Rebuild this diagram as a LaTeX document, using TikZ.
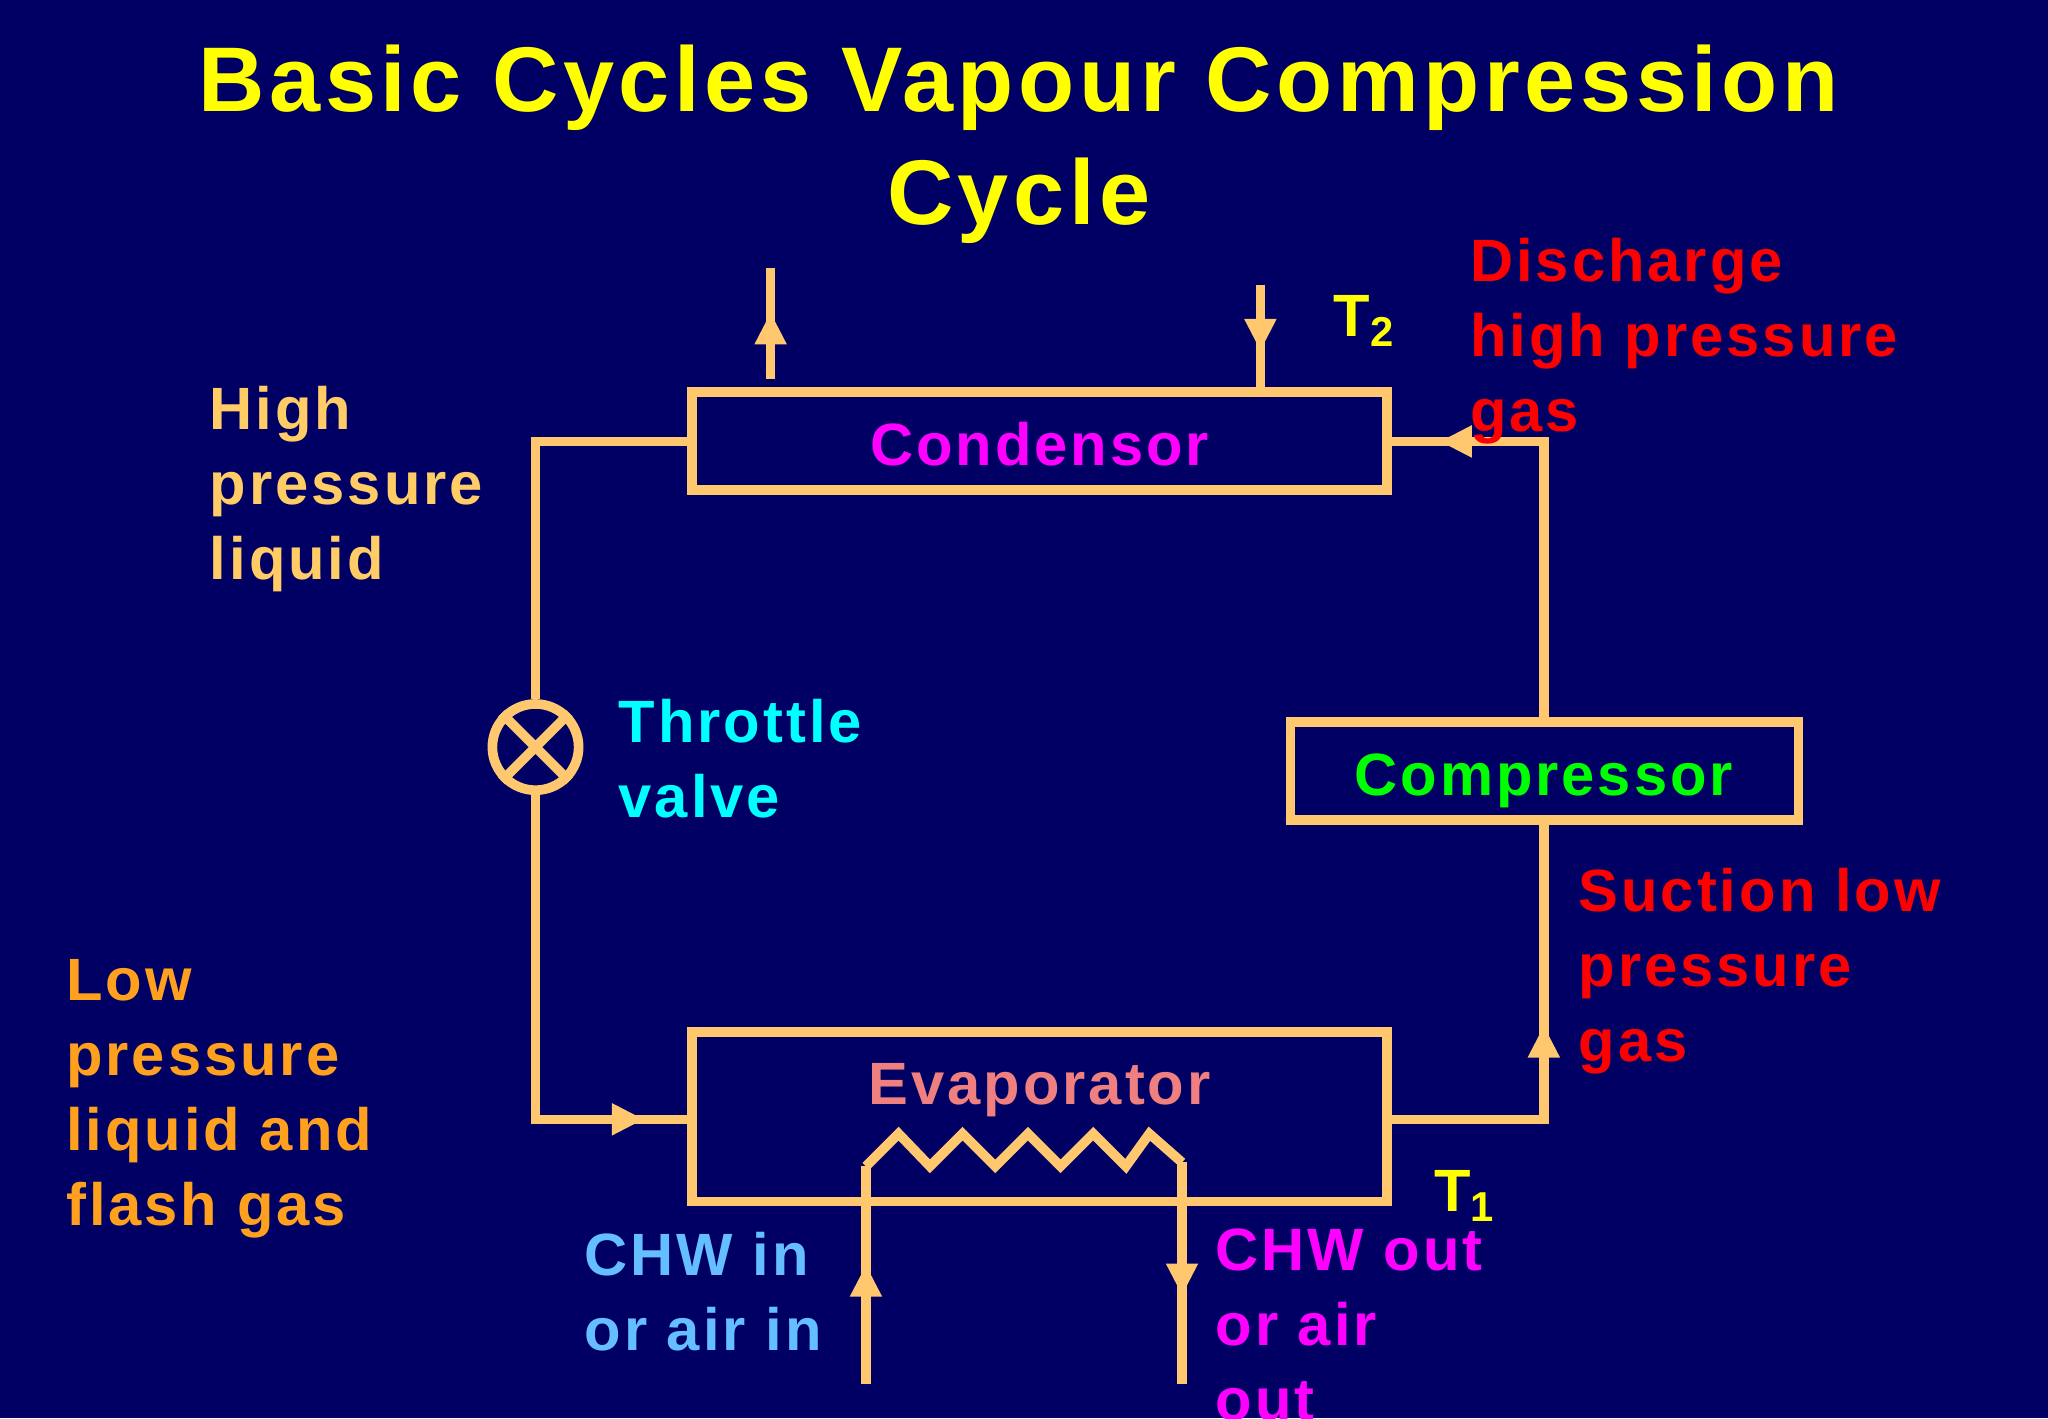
\documentclass[tikz,border=0pt]{standalone}
\usepackage{fontspec}
\setmainfont{Liberation Sans}[LetterSpace=5]
\usetikzlibrary{arrows.meta, decorations.markings}
\definecolor{navy}{RGB}{0,0,100}
\definecolor{pipe}{RGB}{255,200,110}
\definecolor{lorange}{RGB}{255,204,102}
\definecolor{dorange}{RGB}{255,160,30}
\definecolor{salmon}{RGB}{240,128,128}
\definecolor{lblue}{RGB}{100,190,255}
\definecolor{aqua}{RGB}{0,255,255}
\definecolor{pink}{RGB}{255,0,255}
\definecolor{lime}{RGB}{0,255,0}
\definecolor{yel}{RGB}{255,255,0}
\definecolor{rd}{RGB}{255,0,0}
\begin{document}
\begin{tikzpicture}[x=0.01cm, y=-0.01cm,
  pipeline/.style={draw=pipe, line width=2.1pt},
  mid/.style={postaction={decorate}, decoration={markings,
    mark=at position #1 with {\arrow[pipe]{Triangle[length=7pt,width=6.5pt]}}}},
  lbl/.style={font=\fontsize{13}{16.3}\selectfont\bfseries, align=left, inner sep=0pt, anchor=north west},
  every node/.style={text depth=0pt}
]
\fill[navy] (0,0) rectangle (1568,1086);
\useasboundingbox (0,0) rectangle (1568,1086);

\node[font=\fontsize{20}{24.5}\selectfont\bfseries, text=yel, align=center, anchor=north] (title) at (780,22)
  {Basic Cycles Vapour Compression\\Cycle};

% components
\draw[pipeline] (530,300) rectangle (1062,375);
\node[font=\fontsize{13}{16}\selectfont\bfseries, text=pink] (cond) at (796,340) {Condensor};
\draw[pipeline] (530,790) rectangle (1062,920);
\node[font=\fontsize{13}{16}\selectfont\bfseries, text=salmon] (evap) at (796,830) {Evaporator};
\draw[pipeline] (988,553) rectangle (1377,628);
\node[font=\fontsize{13}{16}\selectfont\bfseries, text=lime] (comp) at (1182,593) {Compressor};

\coordinate (cl) at (530,338);
\coordinate (cr) at (1062,338);
\coordinate (el) at (530,857);
\coordinate (er) at (1062,857);
\coordinate (ct) at (1182,553);
\coordinate (cb) at (1182,628);
\node[draw=pipe, line width=2.1pt, circle, inner sep=0pt, minimum size=0.66cm] (valve) at (410,572) {};
\draw[pipe, line width=2.1pt] (valve.north west) -- (valve.south east) (valve.north east) -- (valve.south west);

% refrigerant circuit
\draw[pipeline, line join=miter] (cl) -| (valve.north);
\draw[pipeline, line join=miter, mid=0.9] (valve.south) |- (el);
\draw[pipeline, line join=miter, mid=0.55] (er) -| (cb);
\draw[pipeline, line join=miter, mid=0.88] (ct) |- (cr);

% condenser water
\coordinate (u1) at (590,290); \coordinate (u2) at (590,205);
\coordinate (d1) at (965,218); \coordinate (d2) at (965,300);
\draw[pipeline, mid=0.6] (u1) -- (u2);
\draw[pipeline, mid=0.62] (d1) -- (d2);

% evaporator coil
\coordinate (w1) at (663,1060); \coordinate (w2) at (905,1060);
\coordinate (c1) at (663,893); \coordinate (c2) at (905,890);
\draw[pipeline, line join=miter] (c1) -- (688,868) -- (712,893) -- (737,868) -- (762,893) -- (787,868)
  -- (812,893) -- (837,868) -- (862,893) -- (880,868) -- (c2);
\draw[pipeline, mid=0.55] (w1) -- (c1);
\draw[pipeline, mid=0.6] (c2) -- (w2);

% labels
\node[text=yel, font=\fontsize{13}{16}\selectfont\bfseries, inner sep=0pt] (t2) at (1045,242) {T\textsubscript{2}};
\node[text=yel, font=\fontsize{13}{16}\selectfont\bfseries, inner sep=0pt] (t1) at (1122,912) {T\textsubscript{1}};
\node[lbl, text=rd] (dis) at (1125,182) {Discharge\\high pressure\\gas};
\node[lbl, text=lorange] (hpl) at (160,295) {High\\pressure\\liquid};
\node[lbl, text=aqua] (thr) at (473,535) {Throttle\\valve};
\node[lbl, text=rd] (suc) at (1208,664) {Suction low\\pressure\\gas};
\node[lbl, text=dorange] (lpl) at (50,734) {Low\\pressure\\liquid and\\flash gas};
\node[lbl, text=lblue] (chwin) at (447,943) {CHW in\\or air in};
\node[lbl, text=pink] (chwout) at (930,940) {CHW out\\or air\\out};
\end{tikzpicture}
\end{document}
